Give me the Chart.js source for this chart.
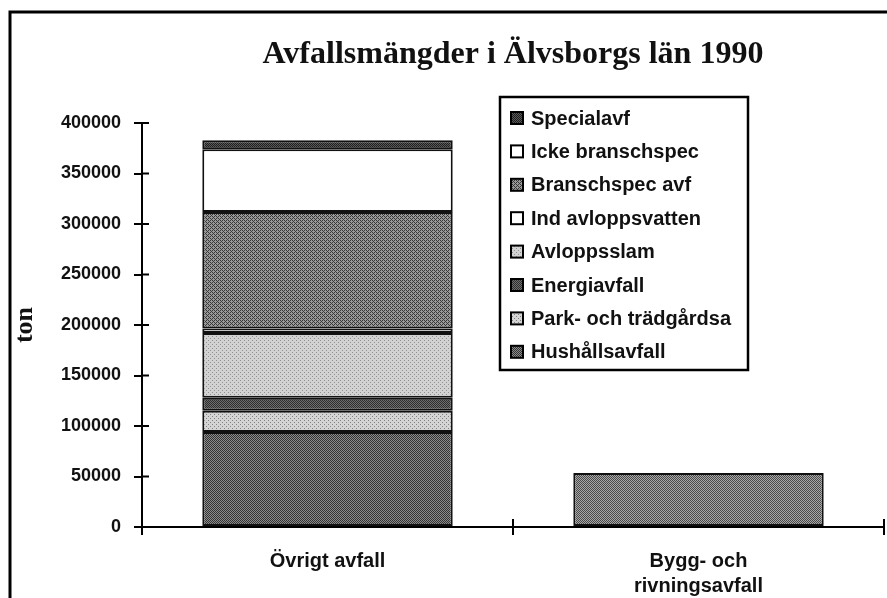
<!DOCTYPE html>
<html>
<head>
<meta charset="utf-8">
<script src="https://cdn.jsdelivr.net/npm/chart.js@4"></script>
<style>
  html, body { margin: 0; padding: 0; background: #fff; }
  #wrap { width: 887px; height: 598px; }
</style>
</head>
<body>
<div id="wrap"><canvas id="c" width="887" height="598"></canvas></div>
<script>
// kategorier och serier (ton)
const categories = [["Övrigt avfall"], ["Bygg- och", "rivningsavfall"]];
const hushallsavfall = [94000, null];
const parkTradgard = [21000, null];
const energiavfall = [13000, null];
const avloppsslam = [64000, null];
const indAvloppsvatten = [4500, null];
const branschspecAvf = [115500, null];
const ickeBranschspec = [62000, null];
const specialavf = [9000, null];
const byggRivning = [null, 53500];
const yTicks = [0, 50000, 100000, 150000, 200000, 250000, 300000, 350000, 400000];

const canvas = document.getElementById("c");
const ctx = canvas.getContext("2d");

// små rastermönster som liknar utskriften
function pattern(bg, fg, pts) {
  const t = document.createElement("canvas");
  t.width = 4; t.height = 4;
  const g = t.getContext("2d");
  g.fillStyle = bg;
  g.fillRect(0, 0, 4, 4);
  g.fillStyle = fg;
  pts.forEach(p => g.fillRect(p[0], p[1], 1, 1));
  return ctx.createPattern(t, "repeat");
}
const checker = [[0,0],[2,0],[1,1],[3,1],[0,2],[2,2],[1,3],[3,3]];
const diag = [[0,0],[1,1],[2,2],[3,3],[2,0],[0,2]];
const sparse = [[0,0],[2,2]];

const fills = {
  hush: pattern("#8c8c8c", "#333333", checker),
  park: pattern("#d4d4d4", "#808080", sparse),
  energi: pattern("#6e6e6e", "#2e2e2e", checker),
  slam: pattern("#d2d2d2", "#909090", sparse),
  ind: "#ffffff",
  bransch: pattern("#999999", "#383838", diag),
  icke: "#ffffff",
  special: pattern("#5a5a5a", "#1e1e1e", checker),
  bygg: pattern("#a8a8a8", "#4a4a4a", checker)
};

function ds(label, data, bg, legend = true) {
  return {
    label, data,
    backgroundColor: bg,
    borderColor: "#111",
    borderWidth: 2,
    borderSkipped: false,
    stack: "s",
    inLegend: legend
  };
}

const datasets = [
  ds("Hushållsavfall", hushallsavfall, fills.hush),
  ds("Park- och trädgårdsa", parkTradgard, fills.park),
  ds("Energiavfall", energiavfall, fills.energi),
  ds("Avloppsslam", avloppsslam, fills.slam),
  ds("Ind avloppsvatten", indAvloppsvatten, fills.ind),
  ds("Branschspec avf", branschspecAvf, fills.bransch),
  ds("Icke branschspec", ickeBranschspec, fills.icke),
  ds("Specialavf", specialavf, fills.special),
  ds("Bygg- och rivningsavfall", byggRivning, fills.bygg, false)
];

// ram runt bilden (vänster + överkant)
const framePlugin = {
  id: "frame",
  beforeDraw(chart) {
    const c = chart.ctx;
    c.save();
    c.fillStyle = "#fff";
    c.fillRect(0, 0, chart.width, chart.height);
    c.strokeStyle = "#000";
    c.lineWidth = 3;
    c.beginPath();
    c.moveTo(10, chart.height);
    c.lineTo(10, 12);
    c.lineTo(chart.width, 12);
    c.stroke();
    c.restore();
  }
};

// tickmarkerna korsar axeln
const innerTicks = {
  id: "innerTicks",
  afterDraw(chart) {
    const c = chart.ctx;
    const y = chart.scales.y, x = chart.scales.x;
    c.save();
    c.strokeStyle = "#000";
    c.lineWidth = 2;
    c.beginPath();
    y.ticks.forEach((t, i) => {
      const py = y.getPixelForTick(i);
      c.moveTo(chart.chartArea.left, py);
      c.lineTo(chart.chartArea.left + 7, py);
    });
    for (let i = 0; i <= categories.length; i++) {
      const px = x.getPixelForValue(i - 0.5);
      c.moveTo(px, chart.chartArea.bottom);
      c.lineTo(px, chart.chartArea.bottom - 8);
    }
    c.stroke();
    c.restore();
  }
};

// legend i ruta, omvänd ordning som i originalet
const boxLegend = {
  id: "boxLegend",
  afterDraw(chart) {
    const c = chart.ctx;
    const items = chart.data.datasets.filter(d => d.inLegend).slice().reverse();
    const left = 500, top = 97, w = 248, h = 273;
    c.save();
    c.fillStyle = "#fff";
    c.fillRect(left, top, w, h);
    c.strokeStyle = "#000";
    c.lineWidth = 2.5;
    c.strokeRect(left, top, w, h);
    c.font = "bold 20px 'Liberation Sans', Arial, sans-serif";
    c.textBaseline = "middle";
    items.forEach((d, i) => {
      const cy = 118 + i * 33.4;
      c.fillStyle = d.backgroundColor;
      c.fillRect(511, cy - 6, 12, 12);
      c.lineWidth = 2;
      c.strokeRect(511, cy - 6, 12, 12);
      c.fillStyle = "#111";
      c.fillText(d.label, 531, cy + 1);
    });
    c.restore();
  }
};

new Chart(canvas, {
  type: "bar",
  data: { labels: categories, datasets },
  plugins: [framePlugin, innerTicks, boxLegend],
  options: {
    responsive: false,
    animation: false,
    layout: { padding: { left: 0, right: 3, top: 0, bottom: 0 } },
    datasets: { bar: { categoryPercentage: 1, barPercentage: 0.675 } },
    plugins: {
      legend: { display: false },
      tooltip: { enabled: false },
      title: {
        display: true,
        fullSize: false,
        text: "Avfallsmängder i Älvsborgs län 1990",
        color: "#111",
        font: { family: "'Liberation Serif', 'Times New Roman', serif", size: 32, weight: "bold" },
        padding: { top: 36, bottom: 48.6 }
      }
    },
    scales: {
      x: {
        stacked: true,
        afterFit(s) { s.height = 71; },
        border: { display: true, color: "#000", width: 2 },
        grid: { drawOnChartArea: false, drawTicks: true, tickLength: 8, color: "#000", lineWidth: 2 },
        ticks: {
          color: "#111",
          padding: 14,
          maxRotation: 0,
          font: { family: "'Liberation Sans', Arial, sans-serif", size: 20, weight: "bold", lineHeight: 1.25 }
        }
      },
      y: {
        stacked: true,
        min: 0,
        max: 400000,
        afterFit(s) { s.width = 142; },
        afterBuildTicks(s) { s.ticks = yTicks.map(v => ({ value: v })); },
        border: { display: true, color: "#000", width: 2 },
        grid: { drawOnChartArea: false, drawTicks: true, tickLength: 8, color: "#000", lineWidth: 2 },
        ticks: {
          color: "#111",
          padding: 13,
          callback: v => String(v),
          font: { family: "'Liberation Sans', Arial, sans-serif", size: 18, weight: "bold" }
        },
        title: {
          display: true,
          text: "ton",
          color: "#111",
          padding: { top: 10, bottom: 0 },
          font: { family: "'Liberation Serif', 'Times New Roman', serif", size: 26, weight: "bold" }
        }
      }
    }
  }
});
</script>
</body>
</html>
